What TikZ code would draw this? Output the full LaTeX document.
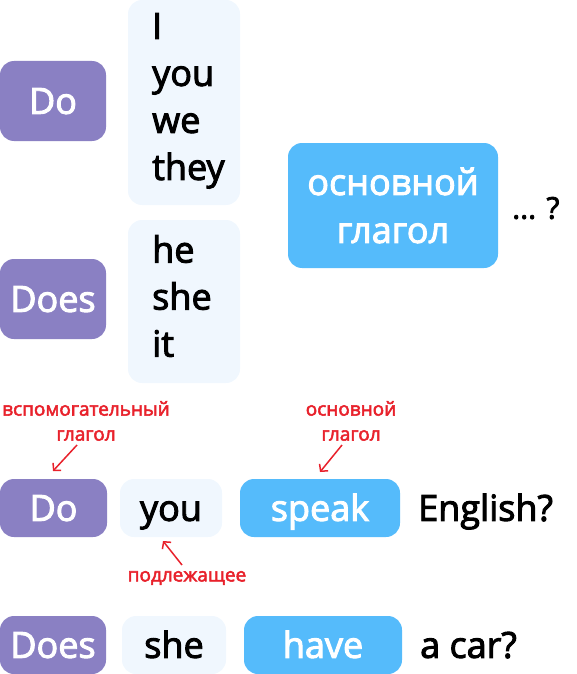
\documentclass[tikz,border=0pt]{standalone}
\usepackage{fontspec}
\setmainfont{Open Sans}[FakeBold=2.7]
\usetikzlibrary{arrows.meta}
\definecolor{purp}{HTML}{8A80C3}
\definecolor{sky}{HTML}{55BBFB}
\definecolor{pale}{HTML}{F0F7FE}
\definecolor{redl}{HTML}{E8212B}
\tikzset{
  box/.style={rounded corners=14pt, inner sep=0pt, font=\fontsize{36}{47}\selectfont},
  tt/.style={text height=25.7pt, text depth=0pt},
  dobox/.style={box, tt, fill=purp, text=white},
  pbox/.style={box, fill=pale, text=black},
  vbox/.style={box, fill=sky, text=white},
  plain/.style={inner sep=0pt, font=\fontsize{36}{47}\selectfont, text=black},
  lab/.style={inner sep=0pt, text=redl, font=\fontsize{19}{25}\selectfont, align=center},
  arr/.style={draw=redl, line width=1.5pt, -{Straight Barb[length=5pt,width=11pt]}}
}
\begin{document}
\begin{tikzpicture}[x=1pt,y=-1pt]
\useasboundingbox (0,0) rectangle (577,674);
% top block
\node[dobox, minimum width=106pt, minimum height=80pt] (do1) at (53,101) {Do};
\node[pbox, minimum width=112pt, minimum height=205pt] (pr1) at (184,102.5) {};
\node[plain, anchor=north west, align=left] (pr1t) at (152,13) {I\\you\\we\\they};
\node[dobox, minimum width=106pt, minimum height=80pt] (does1) at (53,299) {Does};
\node[pbox, minimum width=112pt, minimum height=163pt] (pr2) at (184,301.5) {};
\node[plain, anchor=north west, align=left] (pr2t) at (152,235) {he\\she\\it};
\node[vbox, minimum width=210pt, minimum height=125pt, align=center, font=\fontsize{36}{48}\selectfont] (mv) at (393,205.5) {основной\\глагол};
\node[plain, anchor=west, font=\fontsize{30}{35}\selectfont, text height=21.4pt, text depth=0pt] (q) at (512,208) {... ?};
% labels
\node[lab] (l1) at (86,421) {вспомогательный\\глагол};
\node[lab] (l2) at (351,421) {основной\\глагол};
\node[lab] (l3) at (187,578) {подлежащее};
% row 3
\node[dobox, minimum width=107pt, minimum height=58pt] (do2) at (53.5,508) {Do};
\node[pbox, tt, minimum width=102pt, minimum height=58pt] (you) at (171,508) {you};
\node[vbox, tt, minimum width=160pt, minimum height=58pt] (speak) at (320,508) {speak};
\node[plain, tt, anchor=west] (eng) at (418,508) {English?};
% row 4
\node[dobox, minimum width=106pt, minimum height=58pt] (does2) at (53,645) {Does};
\node[pbox, tt, minimum width=104pt, minimum height=58pt] (she) at (174,645) {she};
\node[vbox, tt, minimum width=158pt, minimum height=58pt] (have) at (323,645) {have};
\node[plain, tt, anchor=west] (car) at (420,645) {a car?};
% arrows
\coordinate (a1s) at (77,445); \coordinate (a1e) at (53,471);
\coordinate (a2s) at (342,445); \coordinate (a2e) at (320,472);
\coordinate (a3s) at (182,565); \coordinate (a3e) at (163,541);
\draw[arr] (a1s) -- (a1e);
\draw[arr] (a2s) -- (a2e);
\draw[arr] (a3s) -- (a3e);
\end{tikzpicture}
\end{document}
